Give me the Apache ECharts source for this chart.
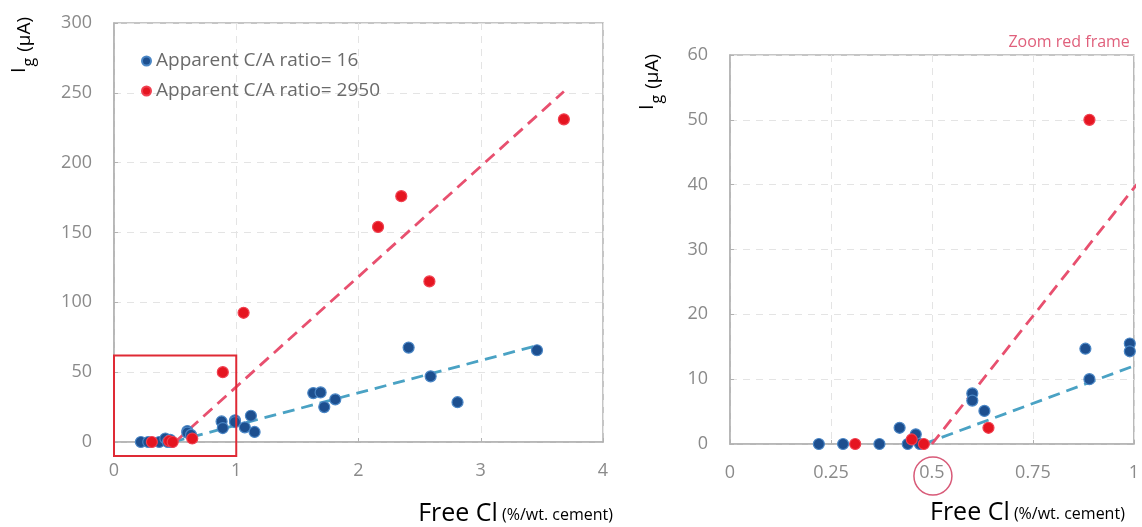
<!DOCTYPE html>
<html><head><meta charset="utf-8">
<script src="https://cdn.jsdelivr.net/npm/echarts@6/dist/echarts.min.js"></script>
<style>html,body{margin:0;padding:0;background:#fff}#c{width:1142px;height:527px}</style>
</head><body><div id="c"></div>
<script>
const seriesNames = ['Apparent C/A ratio= 16', 'Apparent C/A ratio= 2950'];
const lowRatioX = [0.22, 0.28, 0.37, 0.42, 0.44, 0.46, 0.47, 0.60, 0.60, 0.63, 0.88, 0.89, 0.99, 0.99, 1.07, 1.12, 1.15, 1.63, 1.69, 1.72, 1.81, 2.41, 2.59, 2.81, 3.46];
const lowRatioY = [0, 0, 0, 2.5, 0, 1.5, 0, 7.8, 6.7, 5.1, 14.7, 10.0, 15.5, 14.3, 10.5, 18.8, 7.2, 35, 35.5, 25, 30.5, 67.6, 47, 28.5, 65.7];
const highRatioX = [0.31, 0.45, 0.48, 0.64, 0.89, 1.06, 2.16, 2.35, 2.58, 3.68];
const highRatioY = [0, 0.7, 0, 2.5, 50, 92.5, 154, 176, 115, 231];
const lowRatioTrendX = [0.48, 3.46];
const lowRatioTrendY = [0, 69];
const highRatioTrendX = [0.5, 3.68];
const highRatioTrendY = [0, 251];
const leftXTicks = [0, 4, 1];
const leftYTicks = [0, 300, 50];
const rightXTicks = [0, 1, 0.25];
const rightYTicks = [0, 60, 10];
const zoomFrameX = [0, 1];
const zoomFrameY = [-10, 62];
const circledTick = 0.5;
const zoomNote = 'Zoom red frame';
const xTitleMain = 'Free Cl';
const xTitleUnit = '(%/wt. cement)';

const pairs = (xs, ys) => xs.map((x, i) => [x, ys[i]]);
const FONT = 'Open Sans';
const BLUE = '#1d4f8f', RED = '#e51520';
const BLUE_LINE = '#4aa2c4', RED_LINE = '#e8506f';

function axisX(grid, t) {
  return {
    type: 'value', gridIndex: grid, min: t[0], max: t[1], interval: t[2],
    axisLine: { show: true, lineStyle: { color: '#b2b2b2', width: 1.5 } },
    axisTick: { show: true, inside: true, length: 4, lineStyle: { color: '#b2b2b2' } },
    axisLabel: { color: '#8a8a8a', fontFamily: FONT, fontSize: 18, margin: 20 },
    splitLine: { show: true, lineStyle: { color: '#e4e4e4', type: [7, 6] } }
  };
}
function axisY(grid, t) {
  return {
    type: 'value', gridIndex: grid, min: t[0], max: t[1], interval: t[2],
    axisLine: { show: true, lineStyle: { color: '#b2b2b2', width: 1.5 } },
    axisTick: { show: true, inside: true, length: 4, lineStyle: { color: '#b2b2b2' } },
    axisLabel: { color: '#8a8a8a', fontFamily: FONT, fontSize: 18, margin: 22 },
    splitLine: { show: true, lineStyle: { color: '#e4e4e4', type: [7, 6] } }
  };
}
function scatter(name, grid, data, color, border) {
  return {
    name, type: 'scatter', xAxisIndex: grid, yAxisIndex: grid, data, clip: true,
    symbolSize: 11, z: 3,
    itemStyle: { color, borderColor: border, borderWidth: 1.2, opacity: 1 }
  };
}
function trend(grid, data, color) {
  return {
    type: 'line', xAxisIndex: grid, yAxisIndex: grid, data, clip: true,
    symbol: 'none', z: 2, silent: true,
    lineStyle: { color, width: 2.8, type: [12, 7] }
  };
}

const chart = echarts.init(document.getElementById('c'), null, { renderer: 'canvas' });
chart.setOption({
  animation: false,
  backgroundColor: '#fff',
  textStyle: { fontFamily: FONT },
  grid: [
    { left: 114, top: 23, width: 489, height: 419, show: true, borderColor: '#b2b2b2', borderWidth: 1.5 },
    { left: 730, top: 55, width: 406, height: 389, show: true, borderColor: '#b2b2b2', borderWidth: 1.5 }
  ],
  legend: {
    data: seriesNames, orient: 'vertical', left: 136, top: 46,
    itemWidth: 9, itemHeight: 9, itemGap: 10,
    textStyle: { color: '#6a6a6a', fontFamily: FONT, fontSize: 19, lineHeight: 20 }
  },
  xAxis: [axisX(0, leftXTicks), axisX(1, rightXTicks)],
  yAxis: [axisY(0, leftYTicks), axisY(1, rightYTicks)],
  series: [
    trend(0, pairs(lowRatioTrendX, lowRatioTrendY), BLUE_LINE),
    trend(0, pairs(highRatioTrendX, highRatioTrendY), RED_LINE),
    scatter(seriesNames[0], 0, pairs(lowRatioX, lowRatioY), BLUE, '#4a86c5'),
    scatter(seriesNames[1], 0, pairs(highRatioX, highRatioY), RED, '#f04050'),
    trend(1, pairs(lowRatioTrendX, lowRatioTrendY), BLUE_LINE),
    trend(1, pairs(highRatioTrendX, highRatioTrendY), RED_LINE),
    scatter(seriesNames[0], 1, pairs(lowRatioX, lowRatioY), BLUE, '#4a86c5'),
    scatter(seriesNames[1], 1, pairs(highRatioX, highRatioY), RED, '#f04050')
  ]
});

const p0 = chart.convertToPixel({ gridIndex: 0 }, [zoomFrameX[0], zoomFrameY[1]]);
const p1 = chart.convertToPixel({ gridIndex: 0 }, [zoomFrameX[1], zoomFrameY[0]]);
const c = chart.convertToPixel({ gridIndex: 1 }, [circledTick, 0]);
const rTop = chart.convertToPixel({ gridIndex: 1 }, [1, 60]);
const lRight = chart.convertToPixel({ gridIndex: 0 }, [4, 0]);

const yTitleRich = {
  a: { fontFamily: FONT, fontSize: 20, color: '#555', verticalAlign: 'bottom', padding: [0, 1, 8, 0] },
  b: { fontFamily: FONT, fontSize: 16, color: '#555', verticalAlign: 'bottom', padding: [0, 6, 0, 0] },
  c: { fontFamily: FONT, fontSize: 19, color: '#666', verticalAlign: 'bottom', padding: [0, 0, 3, 0] }
};
const xTitleRich = {
  a: { fontFamily: FONT, fontSize: 25, color: '#4a4a4a', verticalAlign: 'bottom' },
  b: { fontFamily: FONT, fontSize: 16, color: '#5a5a5a', verticalAlign: 'bottom', padding: [0, 0, 3, 0] }
};

chart.setOption({
  graphic: [
    { type: 'rect', silent: true, z: 10,
      shape: { x: p0[0], y: p0[1], width: p1[0] - p0[0], height: p1[1] - p0[1] },
      style: { fill: 'none', stroke: '#df2a35', lineWidth: 2 } },
    { type: 'circle', silent: true, z: 10,
      shape: { cx: c[0] + 1, cy: c[1] + 32, r: 19 },
      style: { fill: 'none', stroke: '#d85a78', lineWidth: 1.5 } },
    { type: 'text', silent: true, z: 10,
      x: rTop[0] - 4, y: rTop[1] - 13,
      style: { text: zoomNote, fill: '#e0607c', fontFamily: FONT, fontSize: 16, align: 'right', verticalAlign: 'middle' } },
    { type: 'text', silent: true, z: 10, x: 23, y: 45, rotation: Math.PI / 2,
      style: { text: '{a|I}{b|g}{c|(μA)}', rich: yTitleRich, align: 'center', verticalAlign: 'middle' } },
    { type: 'text', silent: true, z: 10, x: 651, y: 82, rotation: Math.PI / 2,
      style: { text: '{a|I}{b|g}{c|(μA)}', rich: yTitleRich, align: 'center', verticalAlign: 'middle' } },
    { type: 'text', silent: true, z: 10, x: lRight[0] + 10, y: 514,
      style: { text: '{a|' + xTitleMain + '}{b| ' + xTitleUnit + '}', rich: xTitleRich, align: 'right', verticalAlign: 'middle' } },
    { type: 'text', silent: true, z: 10, x: rTop[0] - 9, y: 513,
      style: { text: '{a|' + xTitleMain + '}{b| ' + xTitleUnit + '}', rich: xTitleRich, align: 'right', verticalAlign: 'middle' } }
  ]
});
</script></body></html>
